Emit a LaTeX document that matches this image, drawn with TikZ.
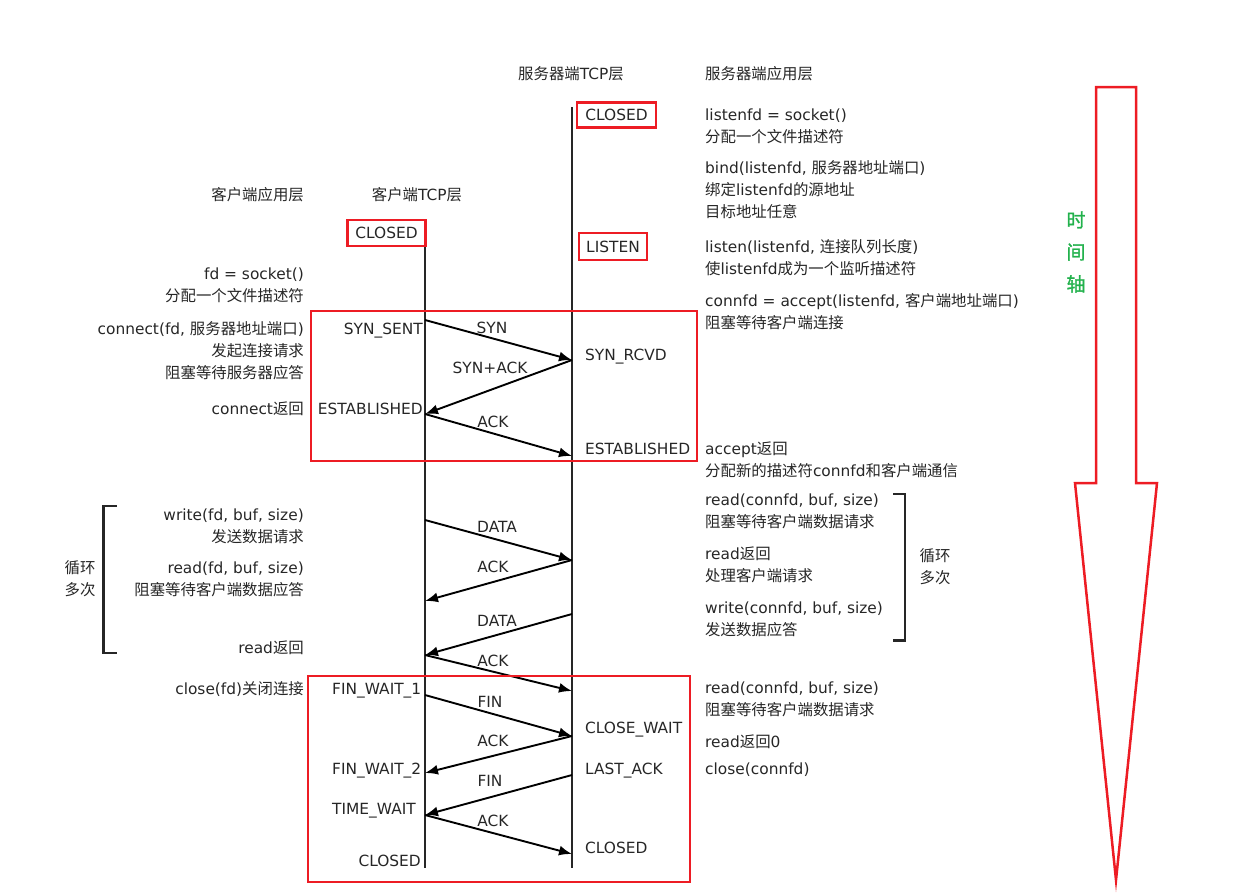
\documentclass[tikz,border=0pt]{standalone}
\usepackage{fontspec}
\setmainfont{DejaVu Sans}
\newfontfamily\cjk[Scale=1.0]{Noto Sans CJK SC}
\newfontfamily\cjkaxis[FakeBold=1.5]{Noto Sans CJK SC}
\newcommand\zh[1]{{\cjk #1}}
\usetikzlibrary{arrows.meta}
\definecolor{boxred}{HTML}{ED1C24}
\definecolor{axisgreen}{HTML}{22B14C}
\definecolor{ink}{HTML}{262626}
\begin{document}
\begin{tikzpicture}[x=1pt,y=-1pt,
  txt/.style={inner sep=0pt, font=\fontsize{15.4}{22}\selectfont, text=ink},
  lft/.style={txt, align=right, anchor=north east},
  rgt/.style={txt, align=left, anchor=north west},
  hdr/.style={txt, anchor=north},
  cstate/.style={txt, anchor=base east},
  sstate/.style={txt, anchor=base west},
  lstate/.style={txt, anchor=base west},
  redbox/.style={txt, draw=boxred, line width=2.5pt},
  msglabel/.style={txt, anchor=base},
  life/.style={draw=ink, line width=2.8pt},
  msg/.style={draw=black, line width=1.9pt, -{Latex[length=13pt,width=10pt]}},
  frame/.style={draw=boxred, line width=2.5pt},
  brace/.style={draw=ink, line width=2.2pt},
]
\useasboundingbox (0,0) rectangle (1235,895);

% headers
\node[hdr] (hsrvtcp) at (571,64) {\strut\zh{服务器端}TCP\zh{层}};
\node[rgt] (hsrvapp) at (705,64) {\strut\zh{服务器端应用层}};
\node[lft] (hcliapp) at (304,185) {\strut\zh{客户端应用层}};
\node[hdr] (hclitcp) at (417,185) {\strut\zh{客户端}TCP\zh{层}};

% lifelines
\coordinate (ctop) at (425,246);
\coordinate (cbot) at (425,868);
\coordinate (stop) at (572,107);
\coordinate (sbot) at (572,868);
\draw[life] (ctop) -- (cbot);
\draw[life] (stop) -- (sbot);

% boxed states
\node[redbox, minimum width=78pt, minimum height=26pt] (cclosed) at (386.5,233) {CLOSED};
\node[redbox, minimum width=79pt, minimum height=25pt] (sclosed) at (616.5,115.2) {CLOSED};
\node[redbox, minimum width=68pt, minimum height=27pt] (slisten) at (613,246.4) {LISTEN};

% client states
\node[cstate] (synsent) at (423,334.5) {SYN\_SENT};
\node[cstate] (cestab) at (423,414.5) {ESTABLISHED};
\node[lstate] (fw1) at (332,694.5) {FIN\_WAIT\_1};
\node[lstate] (fw2) at (332,774.5) {FIN\_WAIT\_2};
\node[lstate] (tw) at (332,814.5) {TIME\_WAIT};
\node[cstate] (cclosed2) at (421,866.5) {CLOSED};

% server states
\node[sstate] (synrcvd) at (585,360.5) {SYN\_RCVD};
\node[sstate] (sestab) at (585,454.5) {ESTABLISHED};
\node[sstate] (closewait) at (585,733.5) {CLOSE\_WAIT};
\node[sstate] (lastack) at (585,774.5) {LAST\_ACK};
\node[sstate] (sclosed2) at (585,853.5) {CLOSED};

% client application text
\node[lft] (l1) at (304,264) {\strut fd = socket()\\\zh{分配一个文件描述符}};
\node[lft] (l2) at (304,319) {\strut connect(fd, \zh{服务器地址端口})\\\zh{发起连接请求}\\\zh{阻塞等待服务器应答}};
\node[lft] (l3) at (304,399) {\strut connect\zh{返回}};
\node[lft] (l4) at (304,505) {\strut write(fd, buf, size)\\\zh{发送数据请求}};
\node[lft] (l5) at (304,558) {\strut read(fd, buf, size)\\\zh{阻塞等待客户端数据应答}};
\node[lft] (l6) at (304,638) {\strut read\zh{返回}};
\node[lft] (l7) at (304,679) {\strut close(fd)\zh{关闭连接}};

% server application text
\node[rgt] (r1) at (705,105) {\strut listenfd = socket()\\\zh{分配一个文件描述符}};
\node[rgt] (r2) at (705,158) {\strut bind(listenfd, \zh{服务器地址端口})\\\zh{绑定}listenfd\zh{的源地址}\\\zh{目标地址任意}};
\node[rgt] (r3) at (705,237) {\strut listen(listenfd, \zh{连接队列长度})\\\zh{使}listenfd\zh{成为一个监听描述符}};
\node[rgt] (r4) at (705,291) {\strut connfd = accept(listenfd, \zh{客户端地址端口})\\\zh{阻塞等待客户端连接}};
\node[rgt] (r5) at (705,439) {\strut accept\zh{返回}\\\zh{分配新的描述符}connfd\zh{和客户端通信}};
\node[rgt] (r6) at (705,490) {\strut read(connfd, buf, size)\\\zh{阻塞等待客户端数据请求}};
\node[rgt] (r7) at (705,544) {\strut read\zh{返回}\\\zh{处理客户端请求}};
\node[rgt] (r8) at (705,598) {\strut write(connfd, buf, size)\\\zh{发送数据应答}};
\node[rgt] (r9) at (705,678) {\strut read(connfd, buf, size)\\\zh{阻塞等待客户端数据请求}};
\node[rgt] (r10) at (705,732) {\strut read\zh{返回}0};
\node[rgt] (r11) at (705,759) {\strut close(connfd)};

% loop brackets
\draw[brace] (117,506) -- (103.5,506) -- (103.5,653) -- (117,653);
\node[txt, align=center] (loopl) at (80,579) {\zh{循环}\\\zh{多次}};
\draw[brace] (893,494) -- (905,494) -- (905,640.5) -- (893,640.5);
\node[txt, align=center] (loopr) at (935,567) {\zh{循环}\\\zh{多次}};

% message points
\coordinate (c1) at (425,320);
\coordinate (s1) at (572,360);
\coordinate (c2) at (425,414);
\coordinate (s2) at (572,456);
\coordinate (c3) at (425,520);
\coordinate (s3) at (572,560);
\coordinate (c4) at (425,601);
\coordinate (s4) at (572,614);
\coordinate (c5) at (425,655);
\coordinate (s5) at (572,691);
\coordinate (c6) at (425,695);
\coordinate (s6) at (572,736);
\coordinate (c7) at (425,773);
\coordinate (s7) at (572,775);
\coordinate (c8) at (425,815);
\coordinate (s8) at (572,854);

\draw[msg] (c1) -- (s1);
\draw[msg] (s1) -- (c2);
\draw[msg] (c2) -- (s2);
\draw[msg] (c3) -- (s3);
\draw[msg] (s3) -- (c4);
\draw[msg] (s4) -- (c5);
\draw[msg] (c5) -- (s5);
\draw[msg] (c6) -- (s6);
\draw[msg] (s6) -- (c7);
\draw[msg] (s7) -- (c8);
\draw[msg] (c8) -- (s8);

% message labels
\node[msglabel] (m1) at (492,333.5) {SYN};
\node[msglabel] (m2) at (490,373.5) {SYN+ACK};
\node[msglabel] (m3) at (493,427.5) {ACK};
\node[msglabel] (m4) at (497,532.5) {DATA};
\node[msglabel] (m5) at (493,572.5) {ACK};
\node[msglabel] (m6) at (497,626.5) {DATA};
\node[msglabel] (m7) at (493,666.5) {ACK};
\node[msglabel] (m8) at (490,707.5) {FIN};
\node[msglabel] (m9) at (493,746.5) {ACK};
\node[msglabel] (m10) at (490,786.5) {FIN};
\node[msglabel] (m11) at (493,826.5) {ACK};

% red frames
\draw[frame] (311,311) rectangle (697,461);
\draw[frame] (308,676) rectangle (690,882);

% time axis
\draw[frame, line join=miter] (1096,87) -- (1136,87) -- (1136,483) -- (1157,483) -- (1116,880) -- (1075,483) -- (1096,483) -- cycle;
\node[inner sep=0pt, font=\cjkaxis\fontsize{19}{32}\selectfont, text=axisgreen, align=center] (taxis) at (1076,252) {时\\间\\轴};
\end{tikzpicture}
\end{document}
